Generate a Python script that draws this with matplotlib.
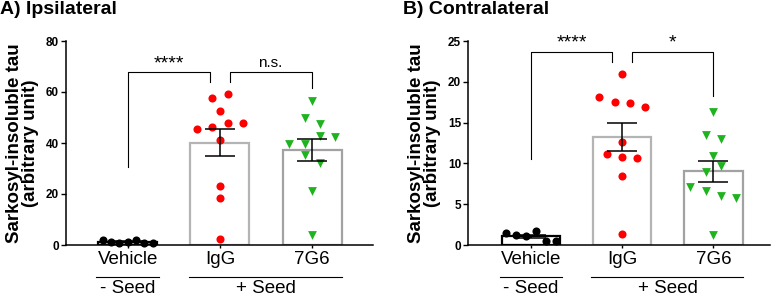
import numpy as np
import matplotlib
matplotlib.use('Agg')
import matplotlib.pyplot as plt

plt.rcParams['font.family'] = ['Liberation Sans', 'DejaVu Sans']

# 数据
groups = ['Vehicle', 'IgG', '7G6']

ipsi_vehicle = [1.8, 1.2, 0.7, 1.0, 2.1, 0.9, 0.8]
ipsi_igg = [57.8, 59.1, 52.7, 45.5, 46.2, 48.0, 47.7, 41.2, 23.1, 18.4, 2.2]
ipsi_7g6 = [56.5, 49.7, 47.3, 39.7, 39.7, 42.8, 42.5, 35.3, 32.0, 21.3, 3.9]

contra_vehicle = [1.43, 1.22, 1.14, 1.7, 0.5, 0.5]
contra_igg = [21.0, 18.1, 17.5, 17.4, 16.9, 12.6, 11.1, 10.8, 10.7, 8.4, 1.4]
contra_7g6 = [16.3, 13.5, 13.0, 10.9, 9.0, 9.7, 7.1, 6.6, 6.0, 5.8, 1.2]

ipsi_stars = ['****', 'n.s.']
contra_stars = ['****', '*']

point_colors = ['black', '#ff0000', '#1fb31f']
point_markers = ['o', 'o', 'v']
bar_edges = ['black', '#b4b4b4', '#a2a2a2']

FIG_W, FIG_H, DPI = 7.77, 2.97, 100


def swarm(vals, px_unit, px_x, thr=9.0, step=15.3, max_w=50.0):
    # 类似 GraphPad 的散点排列：数值接近的点横向排成一行
    rows = []
    for v in vals:
        if rows and min(abs(v - g) for g in rows[-1]) * px_unit < thr:
            rows[-1].append(v)
        else:
            rows.append([v])
    offs = []
    for r in rows:
        n = len(r)
        s = step if n < 2 else min(step, max_w / (n - 1))
        offs += [(i - (n - 1) / 2) * s / px_x for i in range(n)]
    return np.array(offs)


def panel(ax, data, ymax, yticks, stars, title, title_x, br):
    ax.set_xlim(br['xlim'])
    ax.set_ylim(0, ymax)
    pos = ax.get_position()
    px_unit = pos.height * FIG_H * DPI / ymax
    px_x = pos.width * FIG_W * DPI / (br['xlim'][1] - br['xlim'][0])

    for i, vals in enumerate(data):
        vals = np.array(vals)
        m = vals.mean()
        sem = vals.std(ddof=1) / np.sqrt(len(vals))
        ax.bar(i, m, width=0.64, color='white', edgecolor=bar_edges[i],
               linewidth=1.6, zorder=1)
        ax.errorbar(i, m, yerr=sem, color='black', capsize=10.5,
                    elinewidth=1.1, capthick=1.1, zorder=3)
        xs = i + swarm(vals, px_unit, px_x)
        ax.scatter(xs, vals, s=34 if point_markers[i] == 'o' else 40,
                   marker=point_markers[i], color=point_colors[i],
                   linewidths=0, zorder=2, clip_on=False)

    # 显著性括号
    top = br['top']
    l1, r1, l2, r2 = br['ends']
    ax.plot([0, 0, 0.89, 0.89], [l1, top, top, r1], color='black', lw=0.8, clip_on=False)
    ax.plot([1.11, 1.11, 2, 2], [r1, top, top, r2], color='black', lw=0.8, clip_on=False)
    for x, s in zip([0.45, 1.55], stars):
        star = s.startswith('*')
        ax.text(x, top + ymax * (0.0 if star else 0.012), s, ha='center', va='bottom',
                fontsize=14 if star else 11)

    ax.set_yticks(yticks)
    ax.set_yticklabels([str(t) for t in yticks], fontweight='bold', fontsize=8.5)
    ax.set_xticks(range(3))
    ax.set_xticklabels(groups, fontsize=13.5)
    ax.tick_params(axis='y', length=3.5, width=1, pad=1.5)
    ax.tick_params(axis='x', length=2.5, width=1, pad=1.5)
    for s in ['top', 'right']:
        ax.spines[s].set_visible(False)
    for s in ['left', 'bottom']:
        ax.spines[s].set_linewidth(1.1)
    ax.set_ylabel('Sarkosyl-insoluble tau\n(arbitrary unit)', fontweight='bold',
                  fontsize=13.5, linespacing=0.95, labelpad=5)

    # 下方的 Seed 分组
    tr = ax.get_xaxis_transform()
    ax.plot([-0.34, 0.34], [-0.157, -0.157], color='black', lw=0.8, transform=tr, clip_on=False)
    ax.plot([0.66, 2.32], [-0.157, -0.157], color='black', lw=0.8, transform=tr, clip_on=False)
    ax.text(0, -0.236, '- Seed', transform=tr, ha='center', va='baseline', fontsize=13.5)
    ax.text(1.5, -0.236, '+ Seed', transform=tr, ha='center', va='baseline', fontsize=13.5)

    ax.figure.text(title_x, 0.998, title, ha='left', va='top', fontsize=14, fontweight='bold')


fig = plt.figure(figsize=(FIG_W, FIG_H), dpi=DPI)
ax1 = fig.add_axes([66 / 777, 1 - 245 / 297, 307 / 777, 204 / 297])
ax2 = fig.add_axes([468 / 777, 1 - 245 / 297, 302 / 777, 204 / 297])

panel(ax1, [ipsi_vehicle, ipsi_igg, ipsi_7g6], 80, [0, 20, 40, 60, 80], ipsi_stars,
      'A) Ipsilateral', 0.0,
      {'xlim': (-0.67, 2.66), 'top': 67.8, 'ends': (30.6, 63.9, 63.9, 61.6)})
panel(ax2, [contra_vehicle, contra_igg, contra_7g6], 25, [0, 5, 10, 15, 20, 25], contra_stars,
      'B) Contralateral', 403 / 777,
      {'xlim': (-0.69, 2.62), 'top': 23.7, 'ends': (10.6, 22.4, 22.4, 18.2)})

fig.savefig('out.png', dpi=DPI)
